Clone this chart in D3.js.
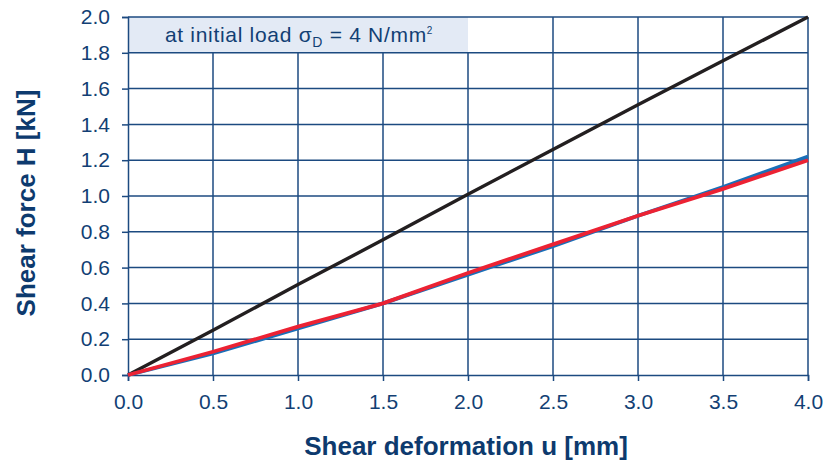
<!DOCTYPE html>
<html lang="en">
<head>
    <meta charset="UTF-8">
    <title>Shear force vs shear deformation</title>
    <script src="https://d3js.org/d3.v7.min.js"></script>
    <style>
        body {
            margin: 0;
            background: #fff;
            font-family: "Liberation Sans", Arial, sans-serif;
        }
        .tick text {
            fill: #123f74;
            font-size: 21px;
        }
        .title {
            fill: #0d3a6e;
            font-weight: bold;
            font-size: 26px;
        }
    </style>
</head>
<body>
    <div id="chart"></div>
    <script>
        var width = 836,
            height = 462;

        // values
        var xTicks = [0, 0.5, 1.0, 1.5, 2.0, 2.5, 3.0, 3.5, 4.0];
        var yTicks = [0, 0.2, 0.4, 0.6, 0.8, 1.0, 1.2, 1.4, 1.6, 1.8, 2.0];
        var uValues = [0, 0.5, 1.0, 1.5, 2.0, 2.5, 3.0, 3.5, 4.0];
        var blackValues = [0, 0.25, 0.505, 0.755, 1.01, 1.26, 1.51, 1.755, 2.0];
        var blueValues = [0, 0.12, 0.26, 0.40, 0.56, 0.72, 0.89, 1.05, 1.22];
        var redValues = [0, 0.13, 0.27, 0.40, 0.57, 0.73, 0.89, 1.04, 1.20];

        var margin = { top: 17, right: 28, bottom: 87, left: 128 };

        var x = d3.scaleLinear()
            .domain([0, 4])
            .range([margin.left, width - margin.right]);
        var y = d3.scaleLinear()
            .domain([0, 2])
            .range([height - margin.bottom, margin.top]);

        var svg = d3.select("#chart").append("svg")
            .attr("width", width)
            .attr("height", height);

        var gridColor = "#1c4a80";

        // label box behind the grid (covers 0..2 mm, 1.8..2.0 kN)
        svg.append("rect")
            .attr("x", x(0))
            .attr("y", y(2.0))
            .attr("width", x(2.0) - x(0))
            .attr("height", y(1.8) - y(2.0))
            .attr("fill", "#e3eaf5");

        // grid
        svg.append("g").selectAll("line")
            .data(xTicks.slice(1))
            .enter().append("line")
            .attr("x1", function(d) { return x(d); })
            .attr("x2", function(d) { return x(d); })
            .attr("y1", y(0))
            .attr("y2", function(d) { return d <= 2 ? y(1.8) : y(2); })
            .attr("stroke", gridColor)
            .attr("stroke-width", 1.5);

        svg.append("g").selectAll("line")
            .data(yTicks.slice(1))
            .enter().append("line")
            .attr("x1", x(0))
            .attr("x2", x(4))
            .attr("y1", function(d) { return y(d); })
            .attr("y2", function(d) { return y(d); })
            .attr("stroke", gridColor)
            .attr("stroke-width", 1.5);

        // axes
        var xAxis = svg.append("g")
            .attr("transform", "translate(0," + y(0) + ")")
            .call(d3.axisBottom(x).tickValues(xTicks).tickFormat(d3.format(".1f")).tickSize(6).tickPadding(10));
        var yAxis = svg.append("g")
            .attr("transform", "translate(" + x(0) + ",0)")
            .call(d3.axisLeft(y).tickValues(yTicks).tickFormat(d3.format(".1f")).tickSize(6).tickPadding(12));

        [xAxis, yAxis].forEach(function(a) {
            a.select(".domain").attr("stroke", gridColor).attr("stroke-width", 1.5);
            a.selectAll(".tick line").attr("stroke", gridColor).attr("stroke-width", 1.5);
            a.selectAll(".tick text").attr("font-family", null).attr("font-size", null);
        });
        xAxis.selectAll(".tick text").attr("dy", "0.85em");

        // label text
        var label = svg.append("text")
            .attr("x", (x(0) + x(2)) / 2 + 1)
            .attr("y", y(1.9) + 7)
            .attr("text-anchor", "middle")
            .attr("fill", "#123f74")
            .style("font-size", "21px")
            .style("letter-spacing", "0.7px");
        label.append("tspan").text("at initial load σ");
        label.append("tspan").attr("dy", 5).style("font-size", "14px").text("D");
        label.append("tspan").attr("dy", -5).text(" = 4 N/mm");
        label.append("tspan").attr("dy", -8).style("font-size", "10px").text("2");

        // series
        var line = d3.line()
            .x(function(d) { return x(d[0]); })
            .y(function(d) { return y(d[1]); });

        var series = [
            { values: blackValues, color: "#231f20", width: 3.4 },
            { values: blueValues, color: "#1a6fb8", width: 3.8 },
            { values: redValues, color: "#ec2233", width: 3.8 }
        ];

        series.forEach(function(s) {
            svg.append("path")
                .datum(uValues.map(function(u, i) { return [u, s.values[i]]; }))
                .attr("d", line)
                .attr("fill", "none")
                .attr("stroke", s.color)
                .attr("stroke-width", s.width)
                .attr("stroke-linecap", "butt");
        });

        // axis titles
        svg.append("text")
            .attr("class", "title")
            .attr("x", 466)
            .attr("y", 455)
            .attr("text-anchor", "middle")
            .text("Shear deformation u [mm]");

        svg.append("text")
            .attr("class", "title")
            .attr("transform", "translate(35,203) rotate(-90)")
            .attr("text-anchor", "middle")
            .text("Shear force H [kN]");
    </script>
</body>
</html>
